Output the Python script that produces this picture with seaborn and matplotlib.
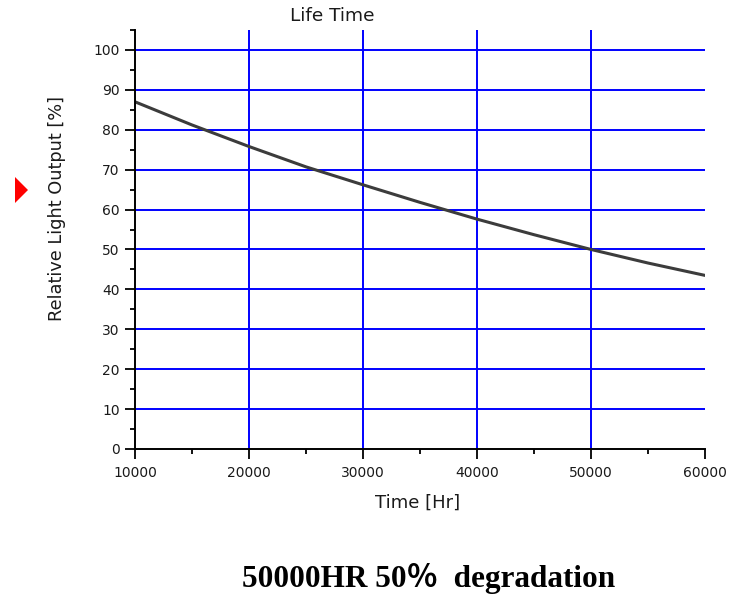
import numpy as np
import pandas as pd
import matplotlib
matplotlib.use("Agg")
import matplotlib.pyplot as plt
import seaborn as sns
from matplotlib.ticker import MultipleLocator
from matplotlib.patches import Polygon

# values
hours = [10000, 15000, 20000, 25000, 30000, 35000, 40000, 45000, 50000, 55000, 60000]
light_output = [87.0, 81.2, 75.8, 70.7, 66.2, 61.8, 57.6, 53.7, 50.0, 46.6, 43.5]

x_ticks = [10000, 20000, 30000, 40000, 50000, 60000]
y_ticks = [0, 10, 20, 30, 40, 50, 60, 70, 80, 90, 100]

df = pd.DataFrame({"Time": hours, "Output": light_output})

sns.set_style("ticks")
plt.rcParams["font.family"] = ["DejaVu Sans"]

fig = plt.figure(figsize=(7.29, 5.95), dpi=100)
ax = fig.add_axes([0.1852, 0.2454, 0.7819, 0.7042])

sns.lineplot(data=df, x="Time", y="Output", ax=ax, color="#3c3c3c", linewidth=2.2)

ax.set_xlim(10000, 60000)
ax.set_ylim(0, 105)
ax.set_xticks(x_ticks)
ax.set_yticks(y_ticks)
ax.xaxis.set_minor_locator(MultipleLocator(5000))
ax.yaxis.set_minor_locator(MultipleLocator(5))

# blue grid, but not on the axis ends
ax.grid(True, which="major", color="#0000ff", linewidth=1.4)
for gl, t in zip(ax.xaxis.get_gridlines(), x_ticks):
    if t in (10000, 60000):
        gl.set_visible(False)
ax.yaxis.get_gridlines()[0].set_visible(False)
ax.set_axisbelow(True)

for s in ["top", "right"]:
    ax.spines[s].set_visible(False)
for s in ["left", "bottom"]:
    ax.spines[s].set_color("black")
    ax.spines[s].set_linewidth(1.4)

ax.tick_params(axis="both", which="major", length=7, width=1.3, color="black",
               labelsize=10, labelcolor="#1a1a1a")
ax.tick_params(axis="x", which="major", pad=5)
ax.tick_params(axis="y", which="major", pad=4)
ax.tick_params(axis="both", which="minor", length=3.6, width=1.3, color="black")

ax.set_xlabel("Time [Hr]", fontsize=13, color="#1a1a1a")
ax.xaxis.set_label_coords(0.4965, -0.128)
ax.xaxis.label.set_va("center")
ax.set_ylabel("Relative Light Output [%]", fontsize=12.8, color="#1a1a1a", va="center")
ax.yaxis.set_label_coords(-0.137, 0.575)

fig.text(332 / 729, 1 - 16 / 595, "Life Time", fontsize=13.3, color="#1a1a1a",
         ha="center", va="center")

fig.text(429 / 729, 1 - 578 / 595, "50000HR 50％  degradation",
         family=["Liberation Serif", "Noto Sans CJK SC"], fontweight="bold",
         fontsize=22.5, ha="center", va="center", color="black")

# red marker on the left edge
fig.add_artist(Polygon([[15 / 729, 1 - 177 / 595], [28 / 729, 1 - 190 / 595],
                        [15 / 729, 1 - 203 / 595]], closed=True,
                       transform=fig.transFigure, color="#ff0000", lw=0))

fig.savefig("out.png", dpi=100)
